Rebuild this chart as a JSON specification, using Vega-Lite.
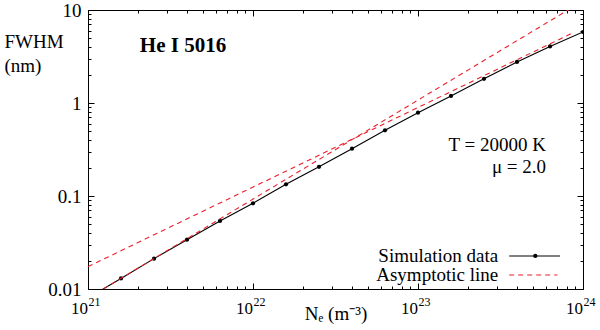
{
  "$schema": "https://vega.github.io/schema/vega-lite/v6.json",
  "width": 495,
  "height": 279,
  "autosize": {"type": "none"},
  "padding": {"left": 88, "top": 10, "right": 17, "bottom": 41},
  "background": "white",
  "config": {
    "view": {"stroke": "black", "strokeWidth": 1},
    "font": "Liberation Serif",
    "axis": {"domain": false, "grid": false, "tickColor": "black", "labelColor": "black", "titleColor": "black", "labelFont": "Liberation Serif", "titleFont": "Liberation Serif", "labelFontSize": 19, "titleFontSize": 19, "titleFontWeight": "normal", "labelOverlap": false, "labelBound": false, "labelFlush": false}
  },
  "datasets": {
    "sim": [
      {"N": 1e21, "FWHM": 0.0080},
      {"N": 1.585e21, "FWHM": 0.0130},
      {"N": 2.512e21, "FWHM": 0.0212},
      {"N": 3.981e21, "FWHM": 0.0339},
      {"N": 6.310e21, "FWHM": 0.0539},
      {"N": 1e22, "FWHM": 0.0835},
      {"N": 1.585e22, "FWHM": 0.1336},
      {"N": 2.512e22, "FWHM": 0.206},
      {"N": 3.981e22, "FWHM": 0.323},
      {"N": 6.310e22, "FWHM": 0.508},
      {"N": 1e23, "FWHM": 0.787},
      {"N": 1.585e23, "FWHM": 1.19},
      {"N": 2.512e23, "FWHM": 1.82},
      {"N": 3.981e23, "FWHM": 2.76},
      {"N": 6.310e23, "FWHM": 4.06},
      {"N": 1e24, "FWHM": 5.8}
    ],
    "asym": [
      {"id": "low", "N": 1e21, "FWHM": 0.00798},
      {"id": "low", "N": 8.5e23, "FWHM": 10.5},
      {"id": "high", "N": 1e21, "FWHM": 0.0174},
      {"id": "high", "N": 8.5e23, "FWHM": 5.58}
    ],
    "one": [{}]
  },
  "layer": [
    {
      "data": {"name": "sim"},
      "mark": {"type": "line", "color": "black", "strokeWidth": 1.1, "clip": true},
      "encoding": {
        "x": {"field": "N", "type": "quantitative",
          "scale": {"type": "log", "domain": [1e21, 1e24], "nice": false},
          "axis": {"orient": "bottom",
            "values": [1e21,2e21,3e21,4e21,5e21,6e21,7e21,8e21,9e21,1e22,2e22,3e22,4e22,5e22,6e22,7e22,8e22,9e22,1e23,2e23,3e23,4e23,5e23,6e23,7e23,8e23,9e23,1e24],
            "labelExpr": "indexof([1e21,1e22,1e23,1e24], datum.value) >= 0 ? '10' : ''",
            "labelFontSize": 17,
            "labelOffset": -9,
            "tickSize": {"condition": {"test": "indexof([1e21,1e22,1e23,1e24], datum.value) >= 0", "value": -6}, "value": -3},
            "labelPadding": 17,
            "title": "Nₑ (m⁻³)",
            "titleY": 24, "titleBaseline": "middle"}},
        "y": {"field": "FWHM", "type": "quantitative",
          "scale": {"type": "log", "domain": [0.01, 10], "nice": false},
          "axis": {"orient": "left",
            "values": [0.01,0.02,0.03,0.04,0.05,0.06,0.07,0.08,0.09,0.1,0.2,0.3,0.4,0.5,0.6,0.7,0.8,0.9,1,2,3,4,5,6,7,8,9,10],
            "labelExpr": "datum.value == 10 ? '10' : datum.value == 1 ? '1' : datum.value == 0.1 ? '0.1' : datum.value == 0.01 ? '0.01' : ''",
            "tickSize": {"condition": {"test": "indexof([0.01,0.1,1,10], datum.value) >= 0", "value": -6}, "value": -3},
            "labelPadding": 13,
            "title": ["FWHM", "(nm)"],
            "titleAngle": 0, "titleAlign": "left", "titleX": -84, "titleY": 37,
            "titleBaseline": "alphabetic", "titleLineHeight": 24}}
      }
    },
    {
      "data": {"name": "sim"},
      "mark": {"type": "point", "filled": true, "color": "black", "size": 18, "opacity": 1, "clip": true},
      "encoding": {
        "x": {"field": "N", "type": "quantitative",
          "axis": {"orient": "top",
            "values": [1e21,2e21,3e21,4e21,5e21,6e21,7e21,8e21,9e21,1e22,2e22,3e22,4e22,5e22,6e22,7e22,8e22,9e22,1e23,2e23,3e23,4e23,5e23,6e23,7e23,8e23,9e23,1e24],
            "labels": false, "title": null,
            "tickSize": {"condition": {"test": "indexof([1e21,1e22,1e23,1e24], datum.value) >= 0", "value": -6}, "value": -3}}},
        "y": {"field": "FWHM", "type": "quantitative",
          "axis": {"orient": "right",
            "values": [0.01,0.02,0.03,0.04,0.05,0.06,0.07,0.08,0.09,0.1,0.2,0.3,0.4,0.5,0.6,0.7,0.8,0.9,1,2,3,4,5,6,7,8,9,10],
            "labels": false, "title": null,
            "tickSize": {"condition": {"test": "indexof([0.01,0.1,1,10], datum.value) >= 0", "value": -6}, "value": -3}}}
      }
    },
    {
      "data": {"name": "asym"},
      "mark": {"type": "line", "color": "#e8202a", "strokeWidth": 1.1, "strokeDash": [5, 4], "clip": true},
      "encoding": {
        "x": {"field": "N", "type": "quantitative",
          "axis": {"orient": "bottom", "values": [1e21, 1e22, 1e23, 1e24],
            "labelExpr": "datum.value == 1e21 ? '21' : datum.value == 1e22 ? '22' : datum.value == 1e23 ? '23' : '24'",
            "ticks": false, "labelFontSize": 12, "labelOffset": 6, "labelPadding": 7, "title": null}},
        "y": {"field": "FWHM", "type": "quantitative", "axis": null},
        "detail": {"field": "id"}
      }
    },
    {
      "data": {"name": "one"},
      "mark": {"type": "text", "text": "He I 5016", "font": "Liberation Serif", "fontWeight": "bold", "fontSize": 21, "align": "center", "baseline": "alphabetic", "color": "black"},
      "encoding": {
        "x": {"datum": 3.766e21, "type": "quantitative", "axis": null},
        "y": {"datum": 3.53, "type": "quantitative", "axis": null}
      }
    },
    {
      "data": {"name": "one"},
      "mark": {"type": "text", "text": "T = 20000 K", "font": "Liberation Serif", "fontSize": 19, "align": "right", "baseline": "alphabetic", "color": "black"},
      "encoding": {
        "x": {"datum": 5.97e23, "type": "quantitative", "axis": null},
        "y": {"datum": 0.305, "type": "quantitative", "axis": null}
      }
    },
    {
      "data": {"name": "one"},
      "mark": {"type": "text", "text": "μ = 2.0", "font": "Liberation Serif", "fontSize": 19, "align": "right", "baseline": "alphabetic", "color": "black"},
      "encoding": {
        "x": {"datum": 5.97e23, "type": "quantitative", "axis": null},
        "y": {"datum": 0.1766, "type": "quantitative", "axis": null}
      }
    },
    {
      "data": {"name": "one"},
      "mark": {"type": "text", "text": "Simulation data", "font": "Liberation Serif", "fontSize": 19, "align": "right", "baseline": "middle", "color": "black"},
      "encoding": {
        "x": {"datum": 3.06e23, "type": "quantitative", "axis": null},
        "y": {"datum": 0.02265, "type": "quantitative", "axis": null}
      }
    },
    {
      "data": {"name": "one"},
      "mark": {"type": "text", "text": "Asymptotic line", "font": "Liberation Serif", "fontSize": 19, "align": "right", "baseline": "middle", "color": "black"},
      "encoding": {
        "x": {"datum": 3.06e23, "type": "quantitative", "axis": null},
        "y": {"datum": 0.01415, "type": "quantitative", "axis": null}
      }
    },
    {
      "data": {"name": "one"},
      "mark": {"type": "rule", "color": "black", "strokeWidth": 1.1},
      "encoding": {
        "x": {"datum": 3.57e23, "type": "quantitative", "axis": null},
        "x2": {"datum": 7.26e23},
        "y": {"datum": 0.02265, "type": "quantitative", "axis": null}
      }
    },
    {
      "data": {"name": "one"},
      "mark": {"type": "point", "filled": true, "color": "black", "size": 18, "opacity": 1},
      "encoding": {
        "x": {"datum": 5.14e23, "type": "quantitative", "axis": null},
        "y": {"datum": 0.02265, "type": "quantitative", "axis": null}
      }
    },
    {
      "data": {"name": "one"},
      "mark": {"type": "rule", "color": "#e8202a", "strokeWidth": 1.1, "strokeDash": [5, 4]},
      "encoding": {
        "x": {"datum": 3.57e23, "type": "quantitative", "axis": null},
        "x2": {"datum": 7.0e23},
        "y": {"datum": 0.01415, "type": "quantitative", "axis": null}
      }
    }
  ],
  "resolve": {"axis": {"x": "independent", "y": "independent"}}
}
